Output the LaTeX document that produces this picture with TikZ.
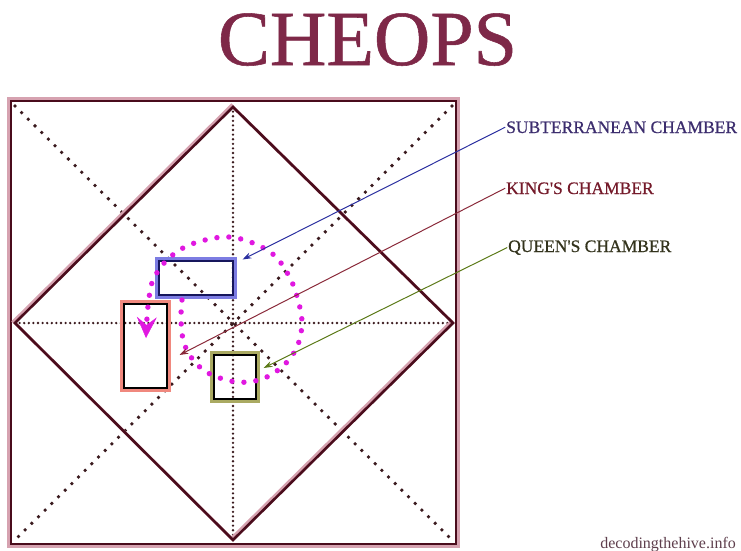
\documentclass[tikz,border=0pt]{standalone}
\usepackage{fontspec}
\setmainfont{Liberation Serif}
\newfontfamily\tagfont{Liberation Serif}[FakeBold=0.7]
\usetikzlibrary{arrows.meta}
\usepackage{xcolor}
\definecolor{wallc}{HTML}{4A0C1C}
\definecolor{glowc}{HTML}{D6A2B0}
\definecolor{dotc}{HTML}{3A1A1E}
\definecolor{titlec}{HTML}{7E2848}
\definecolor{subc}{HTML}{2B2FA0}
\definecolor{subtext}{HTML}{3C2D6E}
\definecolor{subglow}{HTML}{7C7CE2}
\definecolor{subdark}{HTML}{16165C}
\definecolor{kingc}{HTML}{8A2A3A}
\definecolor{kingtext}{HTML}{741A2A}
\definecolor{kingglow}{HTML}{F0887E}
\definecolor{queenc}{HTML}{5C7A18}
\definecolor{queentext}{HTML}{33331C}
\definecolor{queenglow}{HTML}{AAAA62}
\definecolor{loopc}{HTML}{E018E0}
\definecolor{markc}{HTML}{5E3E4C}

\begin{document}
\begin{tikzpicture}[x=1pt,y=-1pt,>={Stealth[length=9pt,width=6pt,inset=3pt]},line cap=round,
  wall/.style={wallc,line width=2.6pt,preaction={draw=glowc,line width=3pt,transform canvas={shift={(-1.6pt,1.6pt)}}}},
  dotline/.style={dotc,dash pattern=on 0pt off 9.4pt,line width=3.8pt},
  finedotline/.style={dotc,dash pattern=on 0pt off 4.6pt,line width=2.6pt},
  chamber/.style={draw=#1,line width=5.5pt,outer sep=0pt,inner sep=0pt},
  tag/.style={anchor=base west,font=\tagfont\fontsize{17.5}{20}\selectfont,inner sep=1pt}]
\useasboundingbox (0,0) rectangle (741,550);

% corners and mid points of the plan
\coordinate (nw) at (15,106);
\coordinate (ne) at (452,106);
\coordinate (se) at (452,540);
\coordinate (sw) at (15,540);
\coordinate (n) at (233,107);
\coordinate (e) at (453,323);
\coordinate (s) at (233,540);
\coordinate (w) at (15,323);

\node[font=\tagfont\fontsize{78}{80}\selectfont,text=titlec,anchor=base,inner sep=0pt] (title) at (367.5,65) {CHEOPS};

% outer frame
\draw[glowc,line width=5pt] (9,99) rectangle (457,545);
\draw[wallc,line width=2.2pt] (11,101) rectangle (456,544);

% dotted axes
\draw[dotline] (nw) -- (se);
\draw[dotline] (ne) -- (sw);
\draw[finedotline] (n) -- (s);
\draw[finedotline] (w) -- (e);

% diamond
\draw[wall,line join=miter] (n) -- (e) -- (s) -- (w) -- cycle;

% chambers
\node[chamber=subglow,minimum width=77pt,minimum height=37pt] (subch) at (196,278) {};
\node[chamber=kingglow,minimum width=46pt,minimum height=87pt] (kingch) at (145.5,346) {};
\node[chamber=queenglow,minimum width=45pt,minimum height=47pt] (queench) at (235,377) {};
\foreach \c/\k in {subch/subdark,kingch/black,queench/black}
  \draw[\k,line width=2.6pt] ([shift={(1.4pt,-1.4pt)}]\c.north west) rectangle ([shift={(-1.4pt,1.4pt)}]\c.south east);

% loop
\draw[loopc,dash pattern=on 0pt off 12pt,line width=5.4pt,
  -{Stealth[length=21pt,width=20pt,inset=8pt,line width=0.4pt]}]
  plot[smooth,tension=0.6] coordinates {(182,300) (181,320) (184,343) (194,361) (210,374) (237,382)
  (262,379) (283,366) (297,347) (302,323) (298,300) (290,278) (275,256) (253,243) (229,237)
  (205,240) (183,248) (165,262) (153,280) (149,298) (147,318) (146,338)};

% labels
\node[tag,text=subtext] (sub) at (505,133) {SUBTERRANEAN CHAMBER};
\node[tag,text=kingtext] (king) at (505,194) {KING\textquotesingle S CHAMBER};
\node[tag,text=queentext] (queen) at (507,252) {QUEEN\textquotesingle S CHAMBER};

\draw[subc,->,line width=1pt] (sub.west) -- ([xshift=8pt]subch.north east);
\draw[kingc,->,line width=1pt] (king.west) -- ([xshift=11pt,yshift=-9pt]kingch.east);
\draw[queenc,->,line width=1pt] (queen.west) -- ([xshift=6pt,yshift=9pt]queench.east);

\node[anchor=base east,font=\fontsize{16}{18}\selectfont,text=markc,inner sep=0pt] (mark) at (736,548) {decodingthehive.info};
\end{tikzpicture}
\end{document}
